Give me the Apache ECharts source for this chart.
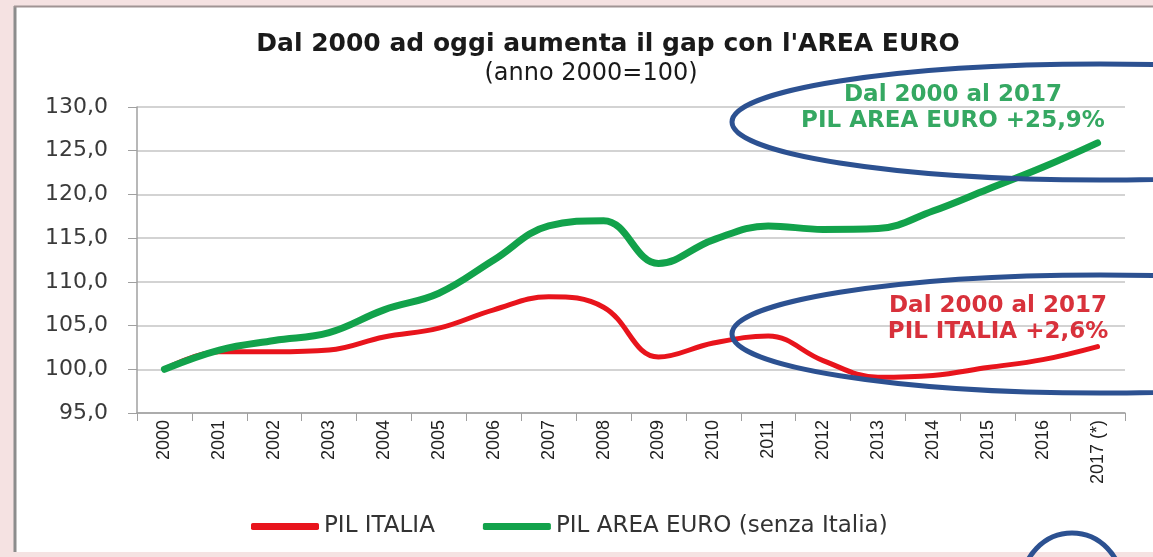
<!DOCTYPE html>
<html>
<head>
<meta charset="utf-8">
<script src="https://cdn.jsdelivr.net/npm/echarts@6/dist/echarts.min.js"></script>
<style>
  html, body { margin: 0; padding: 0; }
  #chart { width: 1153px; height: 557px; }
</style>
</head>
<body>
<div id="chart"></div>
<script>
const years = ['2000', '2001', '2002', '2003', '2004', '2005', '2006', '2007', '2008',
  '2009', '2010', '2011', '2012', '2013', '2014', '2015', '2016', '2017 (*)']
const pilItalia = [100.0, 102.0, 102.0, 102.2, 103.7, 104.7, 106.8, 108.3, 107.1,
  101.4, 103.0, 103.8, 101.0, 99.1, 99.3, 100.2, 101.1, 102.6]
const pilEuro = [100.0, 102.2, 103.3, 104.2, 106.8, 108.7, 112.5, 116.4, 117.0,
  112.1, 114.8, 116.4, 116.0, 116.1, 118.1, 120.6, 123.1, 125.9]
const seriesNames = ['PIL ITALIA', 'PIL AREA EURO (senza Italia)']

const chart = echarts.init(document.getElementById('chart'))

const annotFont = 'bold 23px "DejaVu Sans"'

const option = {
  backgroundColor: '#f5e2e2',
  animation: false,
  title: [
    {
      text: "Dal 2000 ad oggi aumenta il gap con l'AREA EURO",
      left: 603,
      top: 27,
      textAlign: 'center',
      textStyle: { fontFamily: 'DejaVu Sans', fontSize: 25, fontWeight: 'bold', color: '#1a1a1a' }
    },
    {
      text: '(anno 2000=100)',
      left: 586,
      top: 57,
      textAlign: 'center',
      textStyle: { fontFamily: 'DejaVu Sans', fontSize: 24, fontWeight: 'normal', color: '#1a1a1a' }
    }
  ],
  legend: {
    data: seriesNames,
    top: 510,
    left: 246,
    itemWidth: 68,
    itemHeight: 7,
    itemGap: 48,
    icon: 'roundRect',
    textStyle: { fontFamily: 'DejaVu Sans', fontSize: 23, color: '#333' }
  },
  grid: {
    left: 137,
    right: 28,
    top: 107,
    height: 306,
    containLabel: false
  },
  xAxis: {
    type: 'category',
    data: years,
    boundaryGap: true,
    axisLine: { lineStyle: { color: '#a0a0a0', width: 1.5 } },
    axisTick: { show: true, interval: 0, length: 8, lineStyle: { color: '#a0a0a0' } },
    axisLabel: {
      interval: 0,
      rotate: 90,
      margin: 7,
      fontFamily: 'Liberation Sans',
      fontSize: 18,
      color: '#222'
    }
  },
  yAxis: {
    type: 'value',
    min: 95,
    max: 130,
    interval: 5,
    axisLine: { show: true, lineStyle: { color: '#a0a0a0', width: 1.5 } },
    axisTick: { show: true, length: 9, lineStyle: { color: '#a0a0a0' } },
    axisLabel: {
      margin: 29,
      fontFamily: 'DejaVu Sans',
      fontSize: 22,
      color: '#3a3a3a',
      formatter: (v) => v.toFixed(1).replace('.', ',')
    },
    splitLine: { lineStyle: { color: '#c4c4c4', width: 1.5 } }
  },
  series: [
    {
      name: seriesNames[0],
      type: 'line',
      data: pilItalia,
      smooth: 0.4,
      showSymbol: false,
      itemStyle: { color: '#e8141c' },
      lineStyle: { color: '#e8141c', width: 5, cap: 'round' }
    },
    {
      name: seriesNames[1],
      type: 'line',
      data: pilEuro,
      smooth: 0.4,
      showSymbol: false,
      itemStyle: { color: '#12a24b' },
      lineStyle: { color: '#12a24b', width: 7, cap: 'round' }
    }
  ],
  graphic: [
    // pannello bianco con bordo
    { type: 'rect', z: -100, shape: { x: 14, y: 6, width: 1139, height: 546 }, style: { fill: '#ffffff' } },
    { type: 'line', z: -99, shape: { x1: 15, y1: 6, x2: 15, y2: 552 }, style: { stroke: '#8c8c8c', lineWidth: 3 } },
    { type: 'line', z: -99, shape: { x1: 14, y1: 6.5, x2: 1153, y2: 6.5 }, style: { stroke: '#a09494', lineWidth: 2 } },
    // testi annotazione
    {
      type: 'text', z: 50, x: 953, y: 84,
      style: { text: 'Dal 2000 al 2017', fill: '#35a862', font: annotFont, textAlign: 'center' }
    },
    {
      type: 'text', z: 50, x: 953, y: 110,
      style: { text: 'PIL AREA EURO +25,9%', fill: '#35a862', font: annotFont, textAlign: 'center' }
    },
    {
      type: 'text', z: 50, x: 998, y: 295,
      style: { text: 'Dal 2000 al 2017', fill: '#d8313b', font: annotFont, textAlign: 'center' }
    },
    {
      type: 'text', z: 50, x: 998, y: 321,
      style: { text: 'PIL ITALIA +2,6%', fill: '#d8313b', font: annotFont, textAlign: 'center' }
    },
    // ellissi blu
    { type: 'ellipse', z: 60, shape: { cx: 1100, cy: 122, rx: 368, ry: 58 }, style: { fill: 'none', stroke: '#2c5191', lineWidth: 5 } },
    { type: 'ellipse', z: 60, shape: { cx: 1100, cy: 334, rx: 368, ry: 59 }, style: { fill: 'none', stroke: '#2c5191', lineWidth: 5 } },
    { type: 'ellipse', z: 60, shape: { cx: 1072, cy: 585, rx: 50, ry: 52 }, style: { fill: 'none', stroke: '#2c5191', lineWidth: 5 } }
  ]
}

chart.setOption(option)
window.addEventListener('resize', () => chart.resize())
</script>
</body>
</html>
